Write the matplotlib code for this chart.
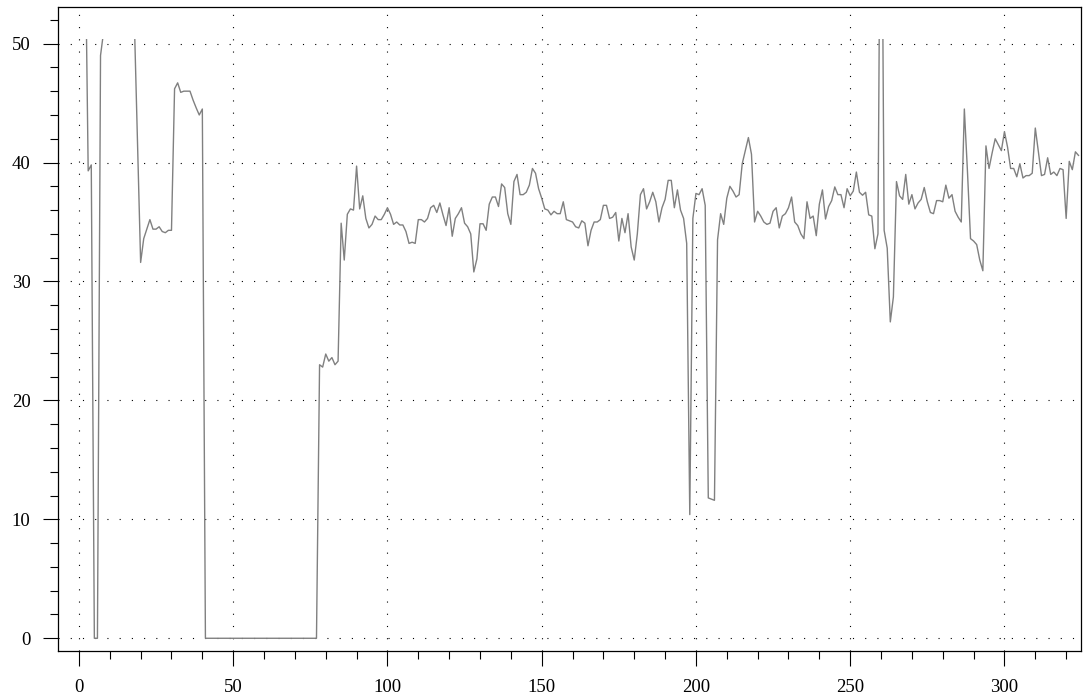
import matplotlib
matplotlib.use("Agg")
import matplotlib.pyplot as plt
from matplotlib.ticker import MultipleLocator
from matplotlib.transforms import Bbox, TransformedBbox

# readings, one per sample; values above the display cap are not drawn
high = 60.0
readings = (
    [high, high, high, 39.3, 39.8, 0.0, 0.0, 49.0, 51.0]
    + [high] * 9
    + [51.5, 41.6, 31.6, 33.6, 34.4, 35.2, 34.4, 34.4, 34.6, 34.2,
       34.1, 34.3, 34.3, 46.2, 46.7, 45.9, 46.0, 46.0, 46.0, 45.25,
       44.6, 44.0, 44.5]
    + [0.0] * 37
    + [23.0, 22.8, 23.9, 23.3, 23.6, 23.0, 23.3, 34.9, 31.8, 35.65,
       36.1, 36.0, 39.7, 36.1, 37.2, 35.3, 34.5, 34.8, 35.5, 35.2,
       35.2, 35.65, 36.2, 35.65, 34.8, 35.0, 34.75, 34.75, 34.2, 33.2,
       33.3, 33.2, 35.2, 35.2, 35.0, 35.3, 36.2, 36.4, 35.8, 36.6,
       35.6, 34.7, 36.2, 33.8, 35.3, 35.7, 36.2, 34.9, 34.6, 34.0,
       30.8, 31.9, 34.85, 34.85, 34.3, 36.5, 37.1, 37.1, 36.3, 38.2,
       37.9, 35.7, 34.8, 38.4, 39.0, 37.3, 37.3, 37.5, 38.1, 39.5,
       39.1, 37.8, 37.0, 36.1, 36.0, 35.6, 35.9, 35.7, 35.7, 36.7,
       35.2, 35.1, 35.0, 34.6, 34.5, 35.1, 34.9, 33.0, 34.3, 35.0,
       35.0, 35.2, 36.4, 36.4, 35.3, 35.4, 35.8, 33.4, 35.3, 34.1,
       35.7, 32.9, 31.8, 34.0, 37.3, 37.8, 36.1, 36.7, 37.5, 36.7,
       35.0, 36.2, 36.9, 38.5, 38.5, 36.2, 37.7, 36.0, 35.3, 33.2,
       10.4, 35.3, 37.4, 37.3, 37.8, 36.4, 11.8, 11.7, 11.6, 33.5,
       35.7, 34.8, 37.0, 38.0, 37.6, 37.1, 37.3, 39.9, 41.0, 42.1,
       40.7, 35.0, 35.9, 35.5, 35.0, 34.8, 34.9, 35.9, 36.2, 34.5,
       35.5, 35.7, 36.2, 37.1, 35.0, 34.7, 34.0, 33.6, 36.7, 35.3,
       35.5, 33.85, 36.5, 37.7, 35.25, 36.3, 36.8, 37.95, 37.3, 37.3,
       36.2, 37.8, 37.2, 37.6, 39.2, 37.5, 37.25, 37.5, 35.6, 35.5,
       32.75, 34.0, 75.0, 34.3, 32.8, 26.6, 28.7, 38.4, 37.2, 36.9,
       39.0, 36.5, 37.3, 36.1, 36.6, 36.9, 37.9, 36.7, 35.8, 35.7,
       36.8, 36.8, 36.7, 38.1, 37.0, 37.3, 35.9, 35.4, 35.0, 44.5,
       39.3, 33.6, 33.4, 33.1, 31.8, 30.9, 41.4, 39.5, 40.8, 42.0,
       41.5, 41.0, 42.6, 41.3, 39.5, 39.5, 38.8, 39.9, 38.7, 38.9,
       38.9, 39.1, 42.9, 40.9, 38.9, 39.0, 40.4, 39.0, 39.2, 38.9,
       39.5, 39.4, 35.3, 40.1, 39.4, 40.9, 40.6]
)
samples = list(range(len(readings)))
x_ticks = [0, 50, 100, 150, 200, 250, 300]
y_ticks = [0, 10, 20, 30, 40, 50]
value_cap = 50.4

plt.rcParams["font.family"] = ["Liberation Serif", "DejaVu Serif"]

fig = plt.figure(figsize=(10.91, 6.97), dpi=100)
ax = fig.add_axes([0.0534, 0.066, 0.9374, 0.9235])

line, = ax.plot(samples, readings, color="#808080", linewidth=1.0)
# hide anything above the cap
clip = TransformedBbox(Bbox([[-50, -50], [400, value_cap]]), ax.transData)
line.set_clip_box(clip)

ax.set_xlim(-6.7, 324.8)
ax.set_ylim(-1.07, 53.05)
ax.set_xticks(x_ticks)
ax.set_yticks(y_ticks)
ax.xaxis.set_minor_locator(MultipleLocator(10))
ax.yaxis.set_minor_locator(MultipleLocator(2))

ax.grid(True, which="major", color="black", linestyle=(0, (1, 10)), linewidth=0.8)
ax.tick_params(which="major", direction="out", length=10.5, width=0.8,
               labelsize=13.5, pad=9.5, colors="black")
ax.tick_params(which="minor", direction="out", length=6, width=0.8)
for s in ax.spines.values():
    s.set_linewidth(0.9)

fig.savefig("out.png", dpi=100)
